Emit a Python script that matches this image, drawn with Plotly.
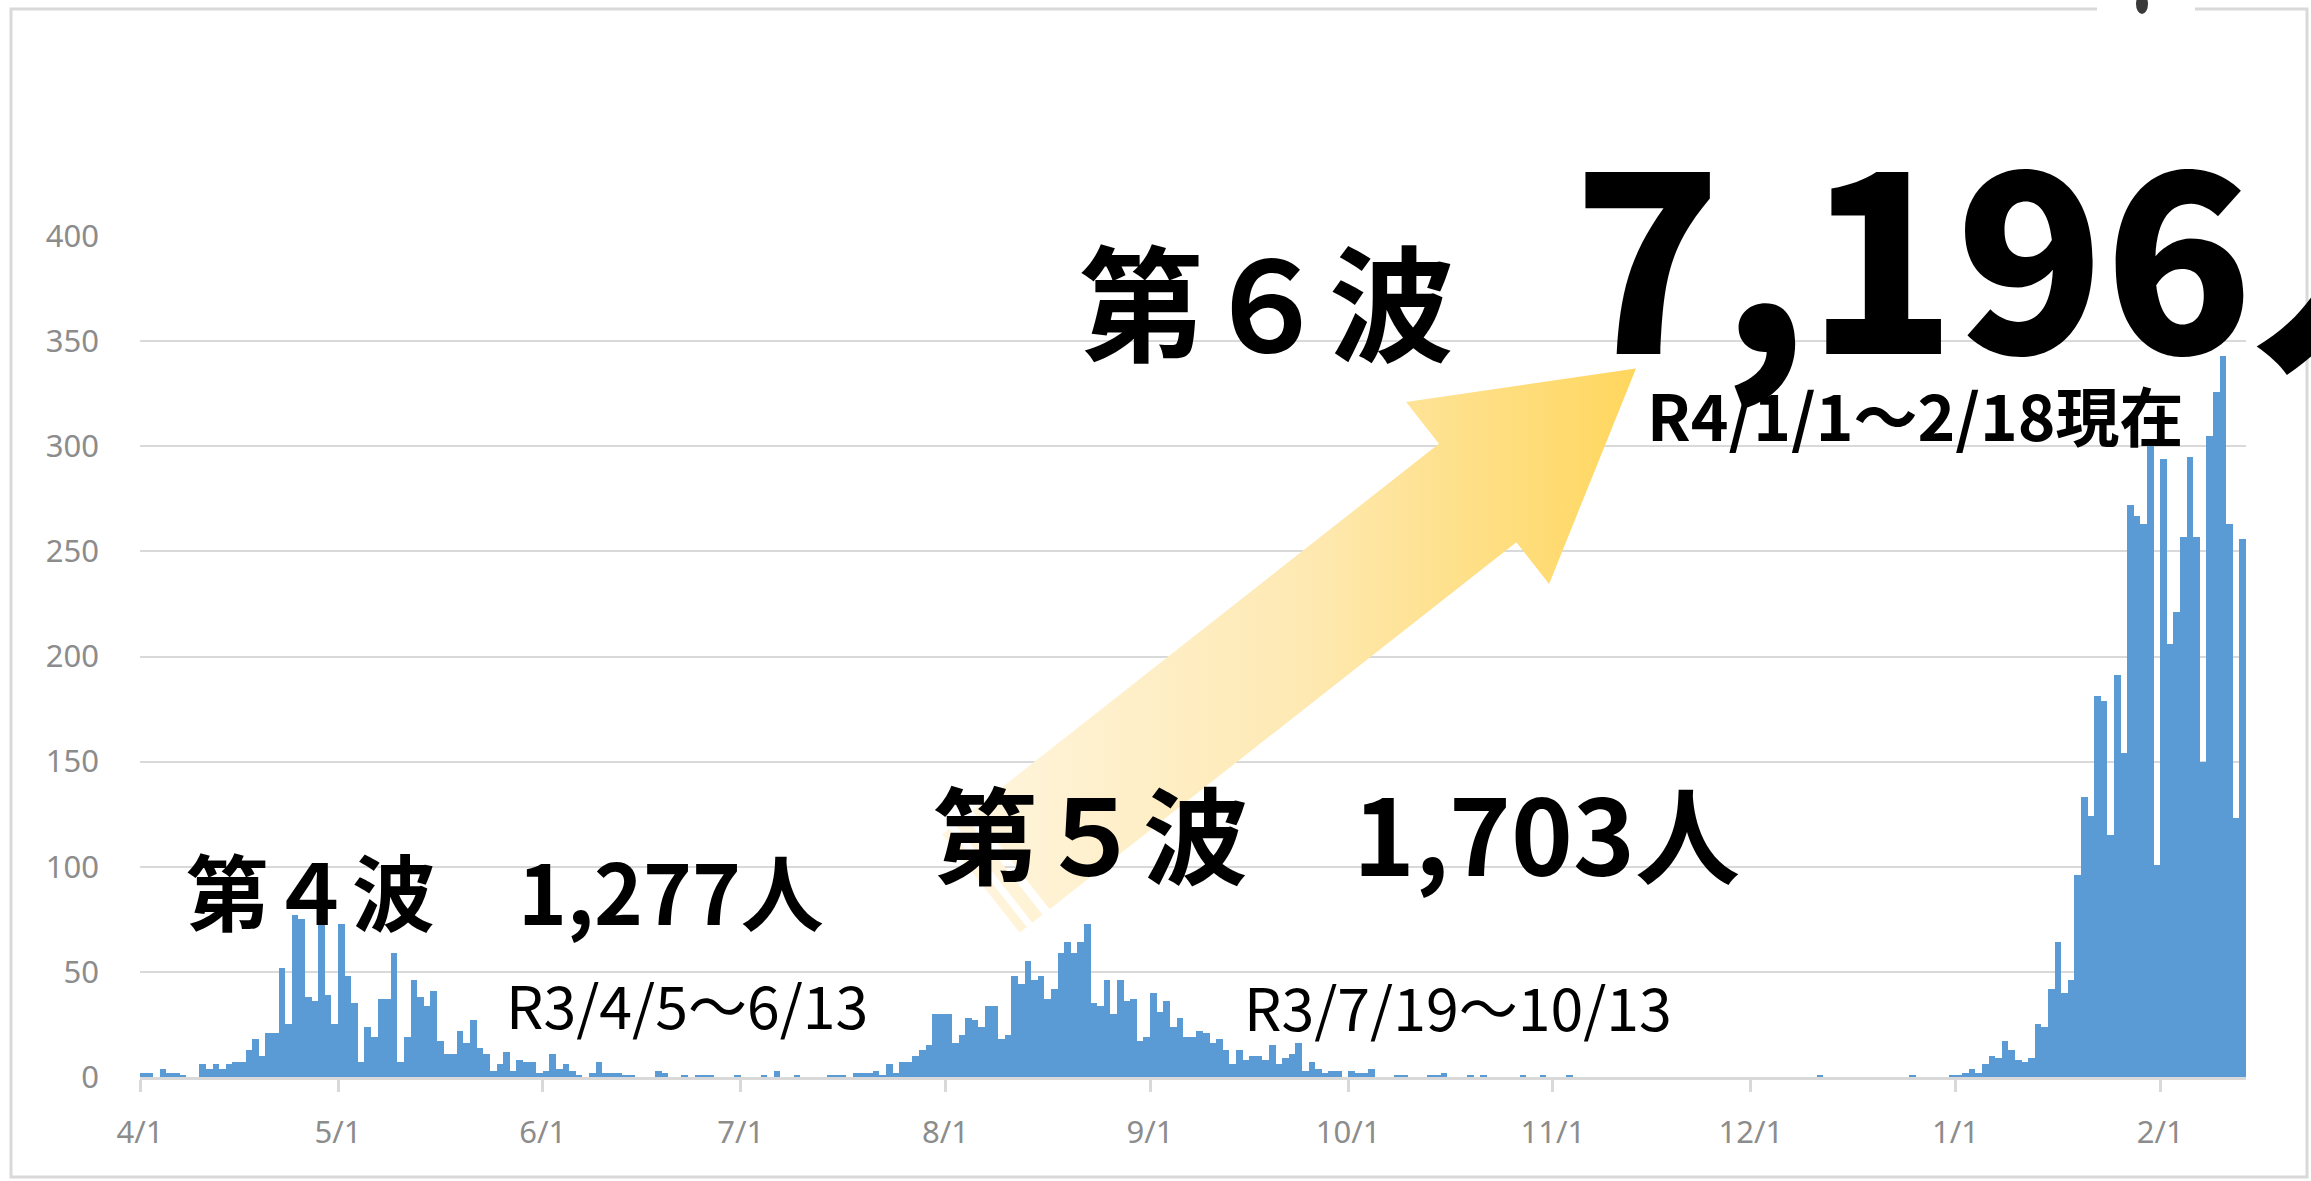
import pandas as pd
import plotly.graph_objects as go

# ---------------- data (daily new cases, R3/4/1 - R4/2/13) ----------------
apr = [2, 2, 0, 4, 2, 2, 1, 0, 0, 6, 4, 6, 4, 6, 7, 7, 13, 18, 10, 21,
       21, 52, 25, 77, 75, 38, 36, 75, 39, 25]
may = [73, 48, 35, 7, 24, 19, 37, 37, 59, 7, 19, 46, 38, 34, 41, 17, 11, 11, 22, 16,
       27, 14, 11, 3, 6, 12, 3, 8, 7, 7, 2]
jun = [3, 11, 4, 6, 3, 1, 0, 2, 7, 2, 2, 2, 1, 1, 0, 0, 0, 3, 2, 0,
       0, 1, 0, 1, 1, 1, 0, 0, 0, 1]
jul = [0, 0, 0, 1, 0, 3, 0, 0, 1, 0, 0, 0, 0, 1, 1, 1, 0, 2, 2, 2,
       3, 1, 6, 2, 7, 7, 10, 13, 15, 30, 30]
aug = [30, 16, 20, 28, 27, 24, 34, 34, 18, 20, 48, 44, 55, 46, 48, 37, 42, 59, 64, 59,
       64, 73, 35, 34, 46, 30, 46, 36, 37, 17, 19]
sep = [40, 31, 36, 24, 28, 19, 19, 22, 21, 16, 18, 13, 6, 13, 8, 10, 10, 8, 15, 6,
       9, 11, 16, 3, 7, 4, 2, 3, 3, 0]
octo = [3, 2, 2, 4, 0, 0, 0, 1, 1, 0, 0, 0, 1, 1, 2, 0, 0, 0, 1, 0,
        1, 0, 0, 0, 0, 0, 1, 0, 0, 1, 0]
nov = [0, 0, 1, 0, 0, 0, 0, 0, 0, 0, 0, 0, 0, 0, 0, 0, 0, 0, 0, 0,
       0, 0, 0, 0, 0, 0, 0, 0, 0, 0]
dec = [0, 0, 0, 0, 0, 0, 0, 0, 0, 0, 1, 0, 0, 0, 0, 0, 0, 0, 0, 0,
       0, 0, 0, 0, 1, 0, 0, 0, 0, 0, 1]
jan = [1, 2, 4, 2, 6, 10, 9, 17, 13, 8, 7, 9, 25, 24, 42, 64, 40, 46, 96, 133,
       124, 181, 179, 115, 191, 154, 272, 267, 263, 300, 101]
feb = [294, 206, 221, 257, 295, 257, 150, 305, 326, 343, 263, 123, 256]

start_date = "2021-04-01"
end_date = "2022-02-14"
tick_dates = ["2021-04-01", "2021-05-01", "2021-06-01", "2021-07-01", "2021-08-01",
              "2021-09-01", "2021-10-01", "2021-11-01", "2021-12-01", "2022-01-01",
              "2022-02-01"]
tick_labels = ["4/1", "5/1", "6/1", "7/1", "8/1", "9/1", "10/1", "11/1", "12/1", "1/1", "2/1"]
y_ticks = [0, 50, 100, 150, 200, 250, 300, 350, 400]

label4 = "第４波　1,277人"
range4 = "R3/4/5～6/13"
label5 = "第５波　1,703人"
range5 = "R3/7/19～10/13"
label6 = "第６波"
total6 = "7,196人"
range6 = "R4/1/1～2/18現在"

# ---------------- build ----------------
values = apr + may + jun + jul + aug + sep + octo + nov + dec + jan + feb
dates = pd.date_range(start_date, periods=len(values), freq="D")
x_centers = dates + pd.Timedelta(hours=12)

W, H = 2311, 1181
PL, PR, PT, PB = 140, 2246, 236, 1077          # plot-area pixel box
CJK = "Noto Sans CJK JP"
GRID = "#d9d9d9"
TICKFONT = dict(family="Noto Sans", size=31, color="#8c8c8c")

fig = go.Figure()
fig.add_trace(go.Bar(x=x_centers, y=values, marker_color="#5B9BD5",
                     marker_line_width=0, hoverinfo="skip"))

# ---------------- striped gradient arrow (pixel space on x2/y2) ----------------
k = W / 1568.0
tip = (1110 * k, 250 * k)
ux, uy = 0.786, -0.618
nx, ny = 0.618, 0.786
head_len = 136.7 * k
head_half = 78.5 * k
shaft_half = 42.5 * k
body_end = -539.6 * k


def P(a, b):
    return (tip[0] + a * ux + b * nx, tip[1] + a * uy + b * ny)


def poly(pts):
    xs = [p[0] for p in pts] + [pts[0][0]]
    ys = [p[1] for p in pts] + [pts[0][1]]
    return xs, ys


grad = dict(type="horizontal", start=970, stop=1640,
            colorscale=[[0, "#FFF5DE"], [0.5, "#FEE9B2"], [1, "#FFD65C"]])

body = [P(0, 0), P(-head_len, head_half), P(-head_len, shaft_half),
        P(body_end, shaft_half), P(body_end, -shaft_half),
        P(-head_len, -shaft_half), P(-head_len, -head_half)]
stripe_specs = [(body_end - 9, body_end - 22), (body_end - 29, body_end - 38)]
shapes_xy = [poly(body)]
for a0, a1 in stripe_specs:
    shapes_xy.append(poly([P(a0, shaft_half), P(a1, shaft_half),
                           P(a1, -shaft_half), P(a0, -shaft_half)]))
for xs, ys in shapes_xy:
    fig.add_trace(go.Scatter(x=xs, y=ys, xaxis="x2", yaxis="y2", mode="none",
                             fill="toself", fillgradient=grad, hoverinfo="skip"))

# ---------------- layout ----------------
fig.update_layout(
    width=W, height=H, margin=dict(l=0, r=0, t=0, b=0),
    paper_bgcolor="white", plot_bgcolor="rgba(0,0,0,0)",
    showlegend=False, bargap=0.0, hovermode=False,
    xaxis=dict(domain=[PL / W, PR / W], type="date", range=[start_date, end_date],
               tickmode="array", tickvals=tick_dates, ticktext=tick_labels,
               showgrid=False, showline=True, linecolor=GRID, linewidth=3,
               ticks="outside", ticklen=12, tickwidth=3, tickcolor=GRID,
               tickfont=TICKFONT, ticklabelstandoff=14, automargin=False,
               fixedrange=True, anchor="y"),
    yaxis=dict(domain=[1 - PB / H, 1 - PT / H], range=[0, 400],
               tickmode="array", tickvals=y_ticks,
               showgrid=True, gridcolor=GRID, gridwidth=2, zeroline=False,
               showline=False, ticks="", tickfont=TICKFONT, ticklabelstandoff=40,
               automargin=False, fixedrange=True, anchor="x"),
    xaxis2=dict(domain=[0, 1], range=[0, W], visible=False, anchor="y2", fixedrange=True),
    yaxis2=dict(domain=[0, 1], range=[H, 0], visible=False, anchor="x2", fixedrange=True),
)


def ann(text, x, y, size, family=CJK, weight=700):
    fig.add_annotation(text=text, x=x / W, y=1 - y / H, xref="paper", yref="paper",
                       xanchor="left", yanchor="middle", showarrow=False,
                       font=dict(family=family, size=size, color="black", weight=weight))


ann(label4, 125 * k, 603 * k, 83)
ann(range4, 342 * k, 681 * k, 59, weight=400)
ann(label5, 632 * k, 563 * k, 105)
ann(range5, 843 * k, 682 * k, 59, weight=400)
ann(label6, 731 * k, 202 * k, 125)
ann(total6, 1066 * k, 168 * k, 244, weight=900)
ann(range6, 1116 * k, 280 * k, 64, weight=700)

# chart frame
fig.add_shape(type="rect", xref="paper", yref="paper",
              x0=11 / W, x1=2307 / W, y0=1 - 1177 / H, y1=1 - 9 / H,
              line=dict(color=GRID, width=3), fillcolor="rgba(0,0,0,0)", layer="below")
fig.add_shape(type="rect", xref="paper", yref="paper",
              x0=2097 / W, x1=2195 / W, y0=1 - 14 / H, y1=1.0,
              line=dict(width=0), fillcolor="white", layer="above")
fig.add_shape(type="circle", xref="paper", yref="paper",
              x0=2136 / W, x1=2148 / W, y0=1 - 14 / H, y1=1 + 6 / H,
              line=dict(width=0), fillcolor="#3a3a3a", layer="above")

fig.write_html("out.html", config={"displayModeBar": False},
               post_script="document.body.style.margin='0px';document.body.style.overflow='hidden';")
